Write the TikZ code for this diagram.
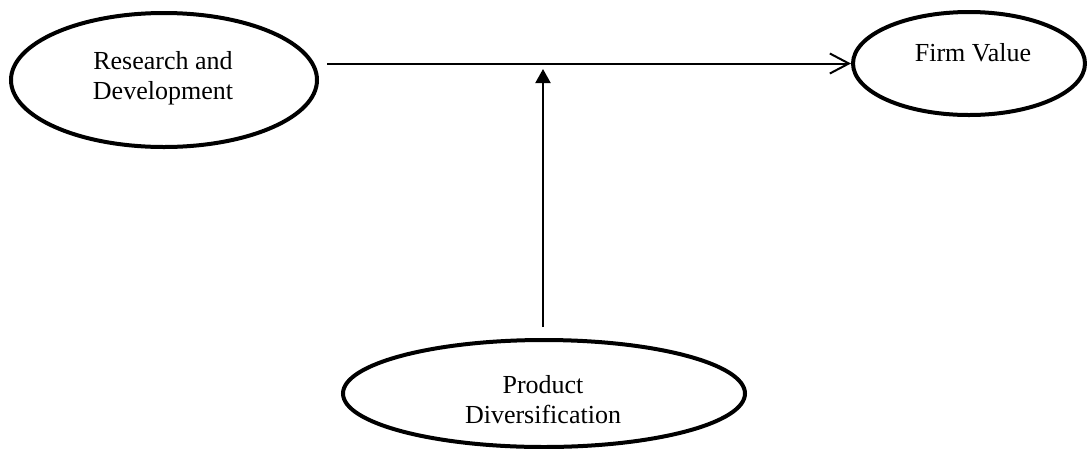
\documentclass[tikz,border=0pt]{standalone}
\usepackage{fontspec}
\setmainfont{Liberation Serif}
\usetikzlibrary{shapes.geometric,arrows.meta}
\begin{document}
\begin{tikzpicture}[x=1pt,y=-1pt,
  oval/.style={draw=black,line width=4pt,ellipse,inner sep=0pt},
  lbl/.style={align=center,font=\fontsize{26}{30}\selectfont,inner sep=0pt},
  conn/.style={line width=2pt}]
\useasboundingbox (0,0) rectangle (1087,448);
\node[oval,minimum width=306pt,minimum height=134pt] (rd) at (164,80) {};
\node[oval,minimum width=232pt,minimum height=103pt] (fv) at (969,63.5) {};
\node[oval,minimum width=402pt,minimum height=107pt] (pd) at (544,393.5) {};
\node[lbl] (rdt) at (163,78) {Research and\\Development};
\node[lbl,anchor=base] (fvt) at (973,61) {Firm Value};
\node[lbl] (pdt) at (543,400) {Product\\Diversification};
\coordinate (hs) at (327,63.5);
\coordinate (vs) at (543,327);
\coordinate (vt) at (543,63.5);
\draw[conn,-{Straight Barb[length=19pt,width=20pt,line width=2pt]}] (hs) -- (fv.west);
\draw[conn,-{Triangle[length=14pt,width=15pt]},shorten >=5.5pt] (vs) -- (vt);
\end{tikzpicture}
\end{document}
